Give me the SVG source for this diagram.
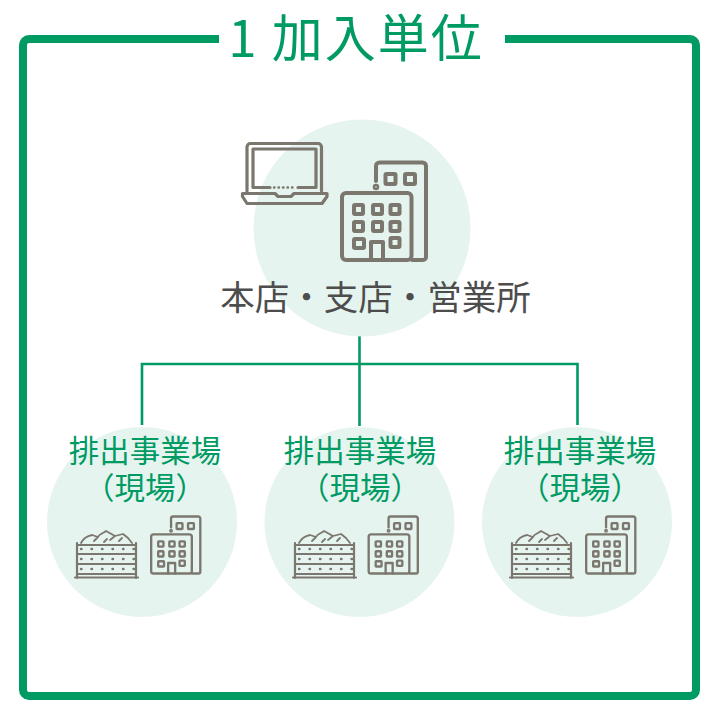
<svg xmlns="http://www.w3.org/2000/svg" xmlns:xlink="http://www.w3.org/1999/xlink" width="720" height="720" viewBox="0 0 720 720">
<style>
text{font-family:"Noto Sans CJK JP","Noto Sans",sans-serif;text-anchor:middle}
.t{fill:#009b63;font-size:30.500px}
.c{fill:#e6f4ef}
.i{fill:none;stroke:#7b776f;stroke-width:4;stroke-linejoin:round;stroke-linecap:round}
.l{fill:none;stroke:#009b63;stroke-width:2.600}
</style>
<defs>
<g id="bld">
<rect x="2" y="33" width="69.500" height="67" rx="4" class="i"/>
<path class="i" d="M36 21V6a3.500 3.500 0 0 1 3.500-3.500H82.500a3.500 3.500 0 0 1 3.500 3.500V97a3 3 0 0 1-3 3H72"/>
<circle cx="36" cy="27" r="1.300" class="i"/>
<g class="i">
<rect x="45.500" y="14" width="10" height="10" rx="1"/><rect x="65" y="14" width="10" height="10" rx="1"/>
<rect x="14" y="45" width="9" height="9" rx="1"/><rect x="33" y="45" width="9" height="9" rx="1"/><rect x="50.500" y="45" width="9" height="9" rx="1"/>
<rect x="14" y="62" width="9" height="9" rx="1"/><rect x="33" y="62" width="9" height="9" rx="1"/><rect x="50.500" y="62" width="9" height="9" rx="1"/>
<rect x="14" y="79" width="10" height="9" rx="1"/><rect x="50.500" y="78" width="9" height="9" rx="1"/>
<path d="M31 100V82H43V100"/>
</g>
</g>
<g id="pile" class="i" style="stroke-width:2.200">
<path d="M77 543V578M136 543V578M75 577.500H138M77 554H136M77 564H136M77 574H136M77 545H136" />
<path stroke-width="2.400" stroke-dasharray=".5 10" d="M81 549H136M81 559H136M81 569H136"/>
<path stroke-width="1.800" d="M81 543c2-4 6-7 11-8l6 2-4 4M98 537c1-3 4-3 8-6l9 5-5 4M115 536l8-2 5 4 4 5M104 542l3-3M119 541l3-3"/>
</g>
</defs>
<g id="frame">
<path d="M219 39H29a6 6 0 0 0-6 6V690a6 6 0 0 0 6 6H690a6 6 0 0 0 6-6V45a6 6 0 0 0-6-6H505" fill="none" stroke="#009b63" stroke-width="8"/>
<text x="356" y="57" font-size="51" fill="#009b63" letter-spacing="2">1 加入単位</text>
</g>
<g id="connectors">
<path class="l" d="M359.500 336V426M142 425V364H577.500V425"/>
</g>
<g id="head-office">
<circle class="c" cx="362" cy="228" r="108.500"/>
<g class="i" style="stroke-width:3.200">
<path d="M247 191V147a3.500 3.500 0 0 1 3.500-3.500H318a3.500 3.500 0 0 1 3.500 3.500V191"/>
<path d="M270 187.500H253V149H316V187.500H298"/>
<path stroke-width="2.400" stroke-dasharray=".5 4" d="M274 187.500H296"/>
<path d="M242.500 193.500H275l3 3H291l3-3H327v3l-5 7H247l-4.500-7Z"/>
</g>
<use xlink:href="#bld" href="#bld" x="340" y="160"/>
<text x="375.500" y="310" font-size="34.500" fill="#4d4d4d">本店・支店・営業所</text>
</g>
<g id="site-1">
<circle class="c" cx="142" cy="522" r="95"/>
<text class="t"><tspan x="145" y="462">排出事業場</tspan><tspan x="145" y="499">（現場）</tspan></text>
<use href="#pile"/>
<use href="#bld" transform="translate(150 515) scale(.585)"/>
</g>
<g id="site-2">
<circle class="c" cx="359.500" cy="522" r="95"/>
<text class="t"><tspan x="360" y="462">排出事業場</tspan><tspan x="360" y="499">（現場）</tspan></text>
<use href="#pile" x="218"/>
<use href="#bld" transform="translate(367.500 515) scale(.585)"/>
</g>
<g id="site-3">
<circle class="c" cx="577" cy="522" r="95"/>
<text class="t"><tspan x="580" y="462">排出事業場</tspan><tspan x="580" y="499">（現場）</tspan></text>
<use href="#pile" x="435"/>
<use href="#bld" transform="translate(585 515) scale(.585)"/>
</g>
</svg>
